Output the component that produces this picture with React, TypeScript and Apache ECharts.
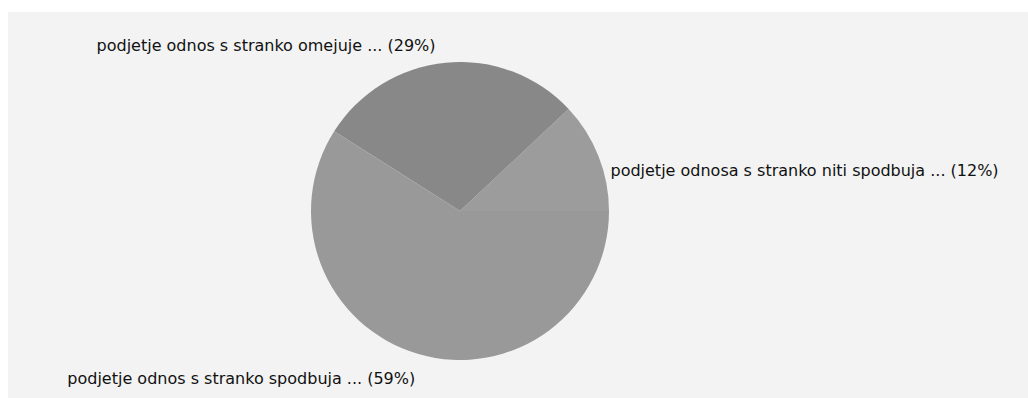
import React, { useEffect, useRef } from "react";
import * as echarts from "echarts";

const categories = [
  "podjetje odnosa s stranko niti spodbuja ...",
  "podjetje odnos s stranko omejuje ...",
  "podjetje odnos s stranko spodbuja ...",
];
const values = [12, 29, 59];
const colors = ["#9c9c9c", "#888888", "#999999"];
const labelShift = [
  [-7, 20],
  [-4, -2],
  [6, 10],
];

export default function App() {
  const ref = useRef<HTMLDivElement>(null);
  useEffect(() => {
    if (!ref.current) return;
    const chart = echarts.init(ref.current, undefined, { renderer: "svg" });
    chart.setOption({
      animation: false,
      backgroundColor: "#f3f3f3",
      series: [
        {
          type: "pie",
          center: [452, 199],
          radius: 149,
          startAngle: 0,
          clockwise: false,
          silent: true,
          data: categories.map((name, i) => ({
            name,
            value: values[i],
            itemStyle: { color: colors[i] },
          })),
          label: {
            show: true,
            position: "outside",
            formatter: (p: any) => `${p.name} (${p.value}%)`,
            color: "#111",
            fontFamily: "DejaVu Sans",
            fontSize: 16,
          },
          labelLine: { show: false, length: 15, length2: 0 },
          labelLayout: (p: any) => ({
            dx: labelShift[p.dataIndex][0],
            dy: labelShift[p.dataIndex][1],
          }),
          emphasis: { disabled: true },
        },
      ],
    });
    return () => chart.dispose();
  }, []);
  return (
    <div
      ref={ref}
      style={{ position: "absolute", left: 8, top: 12, width: 1020, height: 386 }}
    />
  );
}
